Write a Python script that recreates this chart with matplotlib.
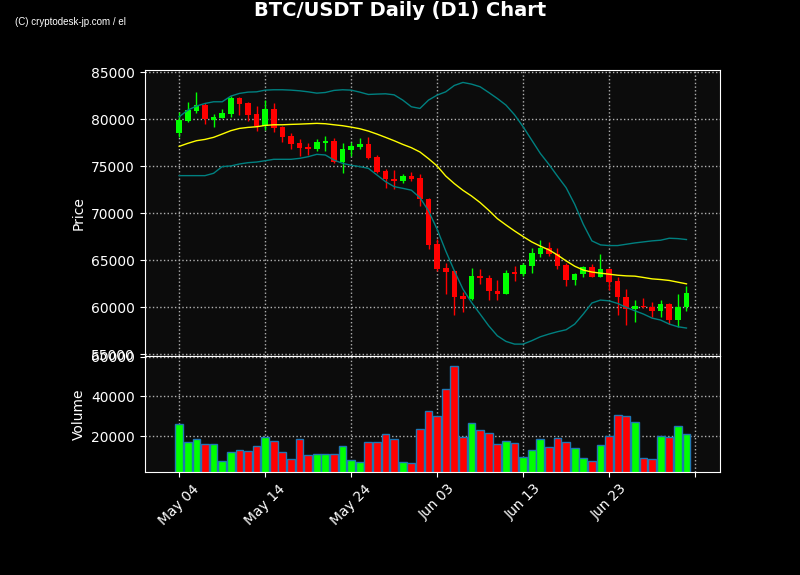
import matplotlib
matplotlib.use("Agg")
import matplotlib.pyplot as plt
import numpy as np
import pandas as pd

# daily candles, May 04 - Jul 02
dates = pd.date_range("2024-05-04", periods=60, freq="D")

opens = [78580, 79820, 80890, 81525, 79965, 80180, 80570, 82270, 81740, 80570,
         79330, 81100, 79180, 78230, 77480, 77060, 76840, 77480, 77700, 75500,
         76740, 77060, 77380, 75990, 74500, 73690, 73440, 73970, 73800, 71520,
         66740, 64180, 63870, 61140, 60820, 63330, 63090, 61740, 61450, 63690,
         63580, 64400, 65710, 66280, 65640, 64470, 62940, 63480, 64260, 63260,
         64080, 62800, 61100, 59750, 60140, 60040, 59540, 60360, 58580, 59970]
highs = [80750, 81810, 82870, 81700, 80530, 81060, 82480, 82380, 81840, 81380,
         82060, 81700, 79260, 78580, 77870, 77450, 77870, 78230, 77980, 77450,
         77590, 77980, 78090, 76210, 74680, 74610, 74190, 74360, 74190, 71600,
         67230, 64680, 63940, 61560, 64220, 64110, 63440, 62870, 63940, 64330,
         64750, 66350, 67200, 66950, 66350, 64650, 63650, 64360, 64580, 65640,
         64220, 63230, 61920, 60750, 60920, 60500, 60710, 60400, 61380, 62270]
lows = [78160, 79750, 80710, 79470, 79150, 80110, 80280, 80430, 79860, 78800,
        78870, 78690, 77620, 76810, 76100, 76210, 76630, 76670, 75390, 74330,
        76140, 76880, 75750, 74260, 72660, 72550, 73260, 73440, 70780, 66170,
        63870, 61380, 59150, 59500, 60750, 62450, 60750, 60750, 61380, 62800,
        63330, 63650, 65360, 65430, 64010, 62230, 62340, 63160, 63230, 63230,
        61840, 59150, 58090, 58370, 59890, 58970, 58970, 58230, 57910, 59610]
closes = [79930, 80990, 81525, 80000, 80250, 80670, 82270, 81670, 80500, 79330,
          81100, 79110, 78120, 77380, 76950, 76840, 77590, 77730, 75500, 76840,
          77160, 77380, 75920, 74430, 73620, 73480, 73970, 73690, 71490, 66670,
          64110, 63790, 61030, 60820, 63300, 63050, 61670, 61450, 63650, 63580,
          64470, 65780, 66310, 65640, 64430, 62940, 63510, 64260, 63260, 64040,
          62730, 61030, 59750, 60140, 59970, 59540, 60360, 58580, 60040, 61530]
volumes = [26150, 16920, 18460, 15900, 15900, 7350, 11800, 12820, 12480, 14870,
           19490, 17610, 11800, 8380, 18460, 10770, 11280, 11280, 11280, 14870,
           8210, 7180, 16920, 16920, 21030, 18460, 7180, 6500, 23590, 32900,
           30250, 43580, 55380, 19660, 26670, 23080, 21540, 15900, 17440, 16410,
           9750, 12820, 18460, 14360, 18980, 16920, 13850, 9230, 7700, 15390,
           20000, 30770, 30250, 27180, 9230, 8720, 20000, 19660, 25130, 21030]

# 20-day SMA and bollinger bands as shown
sma = [77130, 77450, 77730, 77870, 78090, 78440, 78800, 79040, 79150, 79220,
       79360, 79430, 79430, 79470, 79500, 79540, 79580, 79540, 79430, 79330,
       79180, 79010, 78760, 78440, 78090, 77730, 77340, 76990, 76530, 75820,
       75040, 73970, 73160, 72450, 71840, 71140, 70320, 69430, 68760, 68120,
       67520, 66950, 66500, 66100, 65550, 64930, 64360, 63950, 63740, 63620,
       63510, 63400, 63330, 63300, 63160, 63010, 62940, 62840, 62660, 62480]
bb_upper = [80280, 80990, 81420, 81700, 81880, 81880, 82480, 82770, 82910, 82940,
            83120, 83160, 83160, 83120, 83050, 82940, 82800, 82870, 83090, 83160,
            83120, 82910, 82660, 82700, 82730, 82620, 82060, 81350, 81170, 82060,
            82590, 82940, 83620, 83940, 83760, 83480, 82870, 82230, 81530, 80500,
            79220, 77800, 76380, 75210, 73950, 72730, 70960, 68830, 67060, 66630,
            66560, 66560, 66700, 66840, 66950, 67060, 67130, 67340, 67300, 67200]
bb_lower = [74010, 74010, 74010, 74010, 74260, 74970, 75040, 75250, 75390, 75460,
            75600, 75750, 75750, 75750, 75850, 76030, 76280, 76210, 75670, 75320,
            75110, 74970, 74790, 74080, 73370, 72840, 72660, 72460, 71670, 70250,
            68300, 65990, 63870, 61920, 60500, 59260, 58010, 56950, 56350, 56060,
            56060, 56420, 56840, 57130, 57380, 57590, 58190, 59260, 60440, 60750,
            60670, 60390, 59970, 59610, 59260, 58830, 58620, 58190, 57910, 57770]

up_color = "#00ff00"
down_color = "#ff0000"
fg = "white"

x = np.arange(len(dates))
o = np.array(opens)
c = np.array(closes)
colors = [up_color if cc >= oo else down_color for oo, cc in zip(o, c)]

fig = plt.figure(figsize=(8, 5.75), dpi=100, facecolor="black")
ax = fig.add_axes([0.181, 0.381, 0.719, 0.497])
axv = fig.add_axes([0.181, 0.179, 0.719, 0.2015], sharex=ax)

for a in (ax, axv):
    a.set_facecolor("#0c0c0c")
    for s in a.spines.values():
        s.set_color(fg)
    a.tick_params(colors=fg, labelsize=10)
    a.grid(True, color="#b0b0b0", linestyle=":", linewidth=1)
    a.set_axisbelow(True)

# candles
ax.vlines(x, lows, highs, colors=colors, linewidth=1, zorder=2)
ax.bar(x, np.abs(c - o), bottom=np.minimum(o, c), width=0.65,
       color=colors, zorder=3)

# indicators
ax.plot(x, sma, color="yellow", linewidth=1, zorder=4)
ax.plot(x, bb_upper, color="teal", linewidth=1, zorder=4)
ax.plot(x, bb_lower, color="teal", linewidth=1, zorder=4)

ax.set_ylim(54800, 85250)
ax.set_yticks(range(55000, 85001, 5000))
ax.set_ylabel("Price", color=fg, fontsize=10)
plt.setp(ax.get_xticklabels(), visible=False)

# volume
axv.bar(x, volumes, width=0.9, color=colors, edgecolor="#1f77b4", linewidth=1)
axv.set_ylim(0.3 * min(volumes), 1.087 * max(volumes))
axv.set_yticks([20000, 40000, 60000])
axv.set_ylabel("Volume", color=fg, fontsize=10)

ticks = list(range(0, 61, 10))
labels = [dates[t].strftime("%b %d") if t < len(dates) else "" for t in ticks]
axv.set_xticks(ticks)
axv.set_xticklabels(labels, rotation=45)
axv.set_xlim(-4, 62.9)

fig.text(0.5, 0.981, "BTC/USDT Daily (D1) Chart", color=fg, fontsize=14,
         fontweight="bold", ha="center", va="center")
fig.text(0.019, 0.962, "(C) cryptodesk-jp.com / el", color=fg, fontsize=7,
         family="Liberation Sans", ha="left", va="center")

fig.savefig("out.png", dpi=100, facecolor="black")
